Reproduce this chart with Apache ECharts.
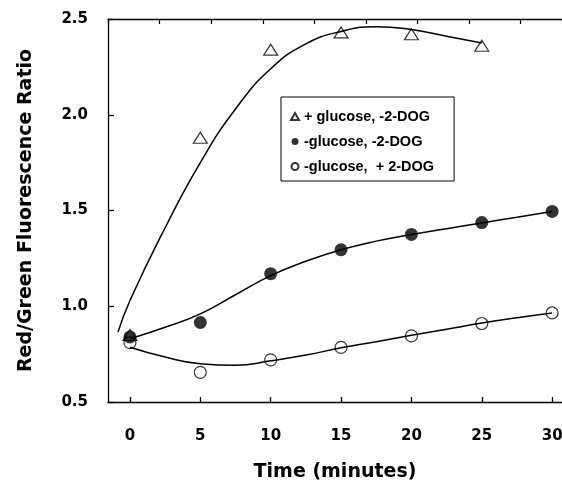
<!DOCTYPE html>
<html>
<head>
<meta charset="utf-8">
<script src="https://cdn.jsdelivr.net/npm/echarts@6/dist/echarts.min.js"></script>
<style>
  html, body { margin: 0; padding: 0; background: #fff; }
  #chart { width: 562px; height: 482px; }
</style>
</head>
<body>
<div id="chart"></div>
<script>
// measured points (minutes, ratio)
const timePoints = [0, 5, 10, 15, 20, 25, 30]
const plusGlucose = [0.85, 1.88, 2.34, 2.43, 2.42, 2.36] // 0..25 only
const minusGlucose = [0.84, 0.915, 1.17, 1.295, 1.375, 1.437, 1.495]
const minusGlucoseDog = [0.81, 0.655, 0.72, 0.785, 0.845, 0.91, 0.965]

// fitted curves
const fitTimeA = [-0.85, 0, 2.5, 5, 7.5, 10, 12.5, 15, 17.5, 20, 22.5, 25]
const fitA = [0.865, 1.03, 1.41, 1.75, 2.03, 2.24, 2.37, 2.435, 2.46, 2.445, 2.41, 2.375]
const fitTimeB = [0, 2.5, 5, 7.5, 10, 12.5, 15, 17.5, 20, 22.5, 25, 27.5, 30]
const fitB = [0.83, 0.89, 0.96, 1.06, 1.16, 1.235, 1.295, 1.34, 1.375, 1.405, 1.435, 1.465, 1.495]
const fitC = [0.786, 0.735, 0.70, 0.692, 0.715, 0.745, 0.783, 0.815, 0.848, 0.88, 0.912, 0.94, 0.965]

const xTicks = [0, 5, 10, 15, 20, 25, 30]
const legendNames = ['+ glucose, -2-DOG', '-glucose, -2-DOG', '-glucose,  + 2-DOG']

const pairs = (xs, ys) => ys.map((y, i) => [xs[i], y])

const chart = echarts.init(document.getElementById('chart'))
const axisFont = { fontFamily: 'DejaVu Sans', fontWeight: 'bold', fontSize: 15, color: '#000' }
const nameFont = { fontFamily: 'DejaVu Sans', fontWeight: 'bold', fontSize: 19, color: '#000' }
const black = '#000'

const curve = (data) => ({
  type: 'line',
  data: data,
  smooth: 0.5,
  symbol: 'none',
  silent: true,
  lineStyle: { color: black, width: 1.5 },
  z: 1
})

chart.setOption({
  animation: false,
  backgroundColor: '#fff',
  grid: { left: 108, top: 19, right: 0, bottom: 80, containLabel: false, outerBoundsMode: 'none' },
  legend: {
    data: legendNames,
    orient: 'vertical',
    left: 281,
    top: 97,
    itemWidth: 8,
    itemHeight: 7,
    itemGap: 10,
    padding: [12, 20, 7, 9],
    borderColor: black,
    borderWidth: 1,
    backgroundColor: '#fff',
    textStyle: { fontFamily: 'Liberation Sans', fontWeight: 'bold', fontSize: 14.5, color: '#000' }
  },
  xAxis: [
    {
      type: 'value',
      min: -1.56,
      max: 30.7,
      name: 'Time (minutes)',
      nameLocation: 'middle',
      nameGap: 61,
      nameTextStyle: nameFont,
      splitLine: { show: false },
      axisLine: { onZero: false, lineStyle: { color: black, width: 1.3 } },
      axisTick: { inside: true, length: 5, customValues: xTicks, lineStyle: { color: black, width: 1.3 } },
      axisLabel: Object.assign({ customValues: xTicks, margin: 27 }, axisFont)
    },
    {
      // top frame with its own (misaligned) ticks
      type: 'value',
      position: 'top',
      min: 0,
      max: 8.8,
      interval: 1,
      splitLine: { show: false },
      axisLine: { show: true, onZero: false, lineStyle: { color: black, width: 1.3 } },
      axisTick: { inside: true, length: 5, lineStyle: { color: black, width: 1.2 } },
      axisLabel: { show: false }
    }
  ],
  yAxis: {
    type: 'value',
    min: 0.5,
    max: 2.5,
    interval: 0.5,
    name: 'Red/Green Fluorescence Ratio',
    nameLocation: 'middle',
    nameGap: 72,
    nameTextStyle: nameFont,
    splitLine: { show: false },
    axisLine: { show: true, onZero: false, lineStyle: { color: black, width: 1.3 } },
    axisTick: { inside: true, length: 6, lineStyle: { color: black, width: 1.3 } },
    axisLabel: Object.assign({ margin: 20, formatter: (v) => v.toFixed(1) }, axisFont)
  },
  series: [
    curve(pairs(fitTimeA, fitA)),
    curve(pairs(fitTimeB, fitB)),
    curve(pairs(fitTimeB, fitC)),
    {
      name: legendNames[2],
      type: 'scatter',
      data: pairs(timePoints, minusGlucoseDog),
      symbol: 'circle',
      symbolSize: 12,
      itemStyle: { color: 'rgba(255,255,255,0)', borderColor: black, borderWidth: 1.2 },
      z: 2
    },
    {
      name: legendNames[0],
      type: 'scatter',
      data: pairs(timePoints, plusGlucose),
      symbol: 'triangle',
      symbolSize: [14, 11],
      itemStyle: { color: 'rgba(255,255,255,0)', borderColor: black, borderWidth: 1.2 },
      z: 3
    },
    {
      name: legendNames[1],
      type: 'scatter',
      data: pairs(timePoints, minusGlucose),
      symbol: 'circle',
      symbolSize: 13,
      itemStyle: { color: black },
      z: 4
    }
  ]
})
</script>
</body>
</html>
